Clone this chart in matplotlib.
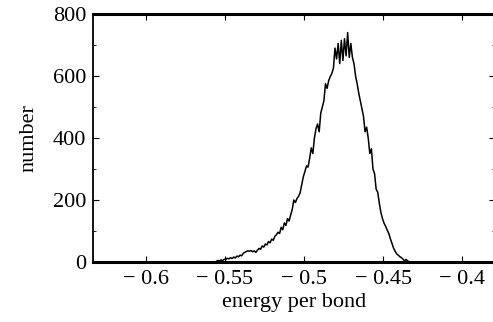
import numpy as np
import matplotlib
matplotlib.use("Agg")
import matplotlib.pyplot as plt
from matplotlib.ticker import MultipleLocator

plt.rcParams['font.family'] = ['Liberation Serif', 'DejaVu Serif']

# histogram of energy per bond, bin width 0.001
bin_start = -0.556
bin_width = 0.001
counts = [
    2, 5, 3, 7, 4, 9, 8, 12, 10, 14,
    11, 16, 13, 19, 17, 22, 20, 28, 31, 34,
    36, 35, 37, 33, 36, 31, 38, 44, 41, 52,
    48, 58, 55, 66, 62, 74, 70, 83, 88, 96,
    92, 112, 104, 126, 118, 140, 132, 152, 170, 200,
    192, 205, 212, 224, 250, 275, 292, 310, 306, 335,
    368, 350, 400, 430, 445, 420, 480, 500, 520, 575,
    560, 585, 598, 608, 625, 690, 655, 705, 640, 715,
    650, 720, 665, 740, 660, 705, 660, 640, 600, 575,
    545, 520, 495, 470, 420, 435, 400, 350, 365, 300,
    285, 235, 225, 190, 160, 140, 125, 115, 103, 92,
    75, 60, 45, 35, 26, 22, 17, 14, 9, 4,
    8, 3, 1, 0,
]

x_ticks = [-0.6, -0.55, -0.5, -0.45, -0.4]
x_labels = ['\u2212 0.6', '\u2212 0.55', '\u2212 0.5', '\u2212 0.45', '\u2212 0.4']
y_ticks = [0, 200, 400, 600, 800]

centers = bin_start + bin_width * (np.arange(len(counts)) + 0.5)

fig = plt.figure(figsize=(4.93, 3.22), dpi=100)
ax = fig.add_axes([93 / 493, 60 / 322, 402 / 493, 248 / 322])

ax.plot(centers, counts, color='black', linewidth=1.1)

ax.set_xlim(-0.6334, -0.3794)
ax.set_ylim(0, 800)
ax.set_xticks(x_ticks)
ax.set_xticklabels(x_labels)
ax.set_yticks(y_ticks)
ax.yaxis.set_minor_locator(MultipleLocator(100))

ax.tick_params(which='both', direction='in', top=True, right=True,
               labelsize=16, pad=5)
ax.tick_params(which='major', length=4, width=0.8)
ax.tick_params(which='minor', length=2.5, width=0.6)
ax.tick_params(axis='x', pad=6)

ax.spines['top'].set_linewidth(2.2)
ax.spines['bottom'].set_linewidth(2.2)
ax.spines['left'].set_linewidth(1.3)
ax.spines['right'].set_visible(False)

ax.set_xlabel('energy per bond', fontsize=16, labelpad=3)
ax.set_ylabel('number', fontsize=16, labelpad=10)

plt.savefig('out.png', dpi=100)
